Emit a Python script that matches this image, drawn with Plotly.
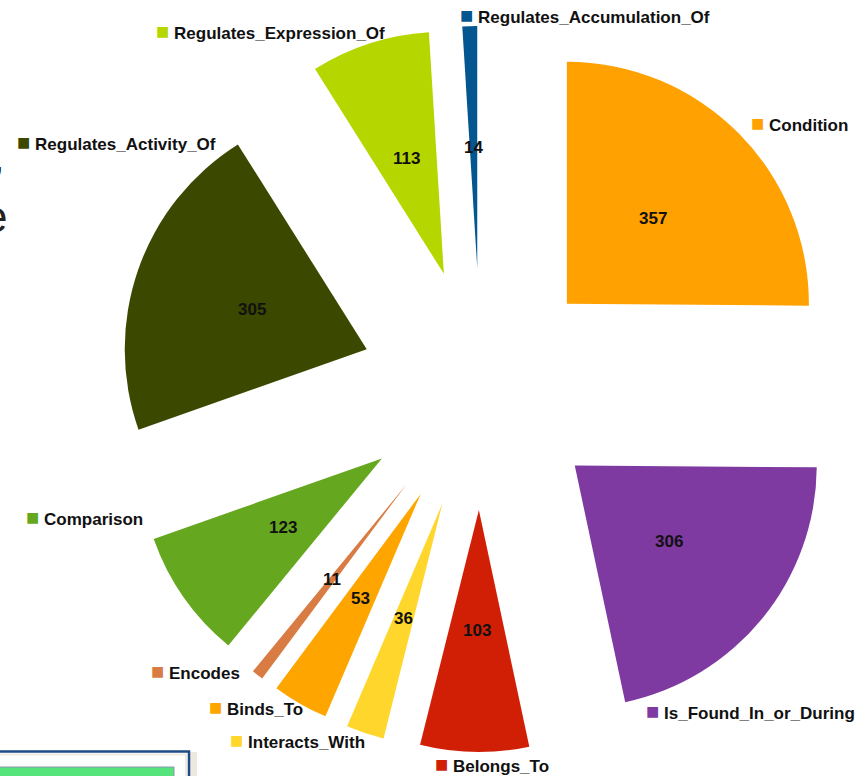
import math
import plotly.graph_objects as go

W, H = 867, 776

# ---- data -------------------------------------------------------------
categories = [
    "Condition", "Is_Found_In_or_During", "Belongs_To", "Interacts_With",
    "Binds_To", "Encodes", "Comparison", "Regulates_Activity_Of",
    "Regulates_Expression_Of", "Regulates_Accumulation_Of",
]
counts = [357, 306, 103, 36, 53, 11, 123, 305, 113, 14]

# ---- styling ----------------------------------------------------------
colors = [
    "#FFA100", "#7E3AA1", "#D11F06", "#FFD62B", "#FFA500",
    "#D97C44", "#66A720", "#3A4800", "#B6D600", "#03568F",
]
PULL = 0.5
DOMAIN_X = [95 / W, 1.0]
DOMAIN_Y = [24 / H, 750 / H]
VALUE_R = 0.5           # value text distance from slice tip (fraction of radius)
# outside category labels: angular shift from slice bisector (deg),
# distance from pie centre (fraction of radius), and which side is anchored
label_shift_deg = [0.6, 23.5, 5.6, -0.7, -1.1, 2.1, 13.9, 23.9, 3.1, -1.1]
label_radius = [1.566, 1.506, 1.568, 1.529, 1.508, 1.533, 1.487, 1.487, 1.525, 1.540]
label_anchor = ["left", "left", "left", "right", "right", "right", "right",
                "right", "right", "left"]
FONT = "Liberation Sans, Arial, sans-serif"

fig = go.Figure(go.Pie(
    labels=categories,
    values=counts,
    sort=False,
    direction="clockwise",
    rotation=0,
    pull=[PULL] * len(counts),
    marker=dict(colors=colors, line=dict(width=0)),
    textinfo="none",
    hoverinfo="label+value",
    domain=dict(x=DOMAIN_X, y=DOMAIN_Y),
    showlegend=False,
))

# geometry of the pie as plotly lays it out (margins are zero)
cx = (DOMAIN_X[0] + DOMAIN_X[1]) / 2 * W
cy = H - (DOMAIN_Y[0] + DOMAIN_Y[1]) / 2 * H
r = min((DOMAIN_X[1] - DOMAIN_X[0]) * W, (DOMAIN_Y[1] - DOMAIN_Y[0]) * H) / 2 / (1 + PULL)

total = sum(counts)
annotations = []
start = 0.0
for i, v in enumerate(counts):
    span = v / total * 360.0
    mid = math.radians(start + span / 2)
    start += span
    # value label
    d = (PULL + VALUE_R) * r
    px, py = cx + d * math.sin(mid), cy - d * math.cos(mid)
    annotations.append(dict(
        x=px / W, y=1 - py / H, xref="paper", yref="paper",
        text=f"<b>{v}</b>", showarrow=False,
        font=dict(family=FONT, size=17, color="#111111"),
        xanchor="center", yanchor="middle",
    ))
    # category label with coloured key square
    a = mid + math.radians(label_shift_deg[i])
    d = label_radius[i] * r
    px, py = cx + d * math.sin(a), cy - d * math.cos(a)
    annotations.append(dict(
        x=px / W, y=1 - py / H, xref="paper", yref="paper",
        text=(f"<span style='color:{colors[i]};font-size:22px'>■</span>"
              f" <b>{categories[i]}</b>"),
        showarrow=False,
        font=dict(family=FONT, size=17, color="#111111"),
        xanchor=label_anchor[i], yanchor="middle",
        xshift=-4 if label_anchor[i] == "left" else 0, yshift=1,
    ))

# cropped fragments of the surrounding slide
annotations.append(dict(x=9 / W, y=1 - 216 / H, xref="paper", yref="paper",
                        text="e", showarrow=False, xanchor="right", yanchor="middle",
                        font=dict(family=FONT, size=44, color="#222222")))
annotations.append(dict(x=5 / W, y=1 - 180 / H, xref="paper", yref="paper",
                        text="’", showarrow=False, xanchor="right", yanchor="middle",
                        font=dict(family=FONT, size=36, color="#222222")))

def px_rect(x0, y0, x1, y1, **kw):
    return dict(type="rect", xref="paper", yref="paper",
                x0=x0 / W, x1=x1 / W, y0=1 - y0 / H, y1=1 - y1 / H, **kw)

shapes = [
    px_rect(190, 752, 197, 800, fillcolor="#ECE9E1", line=dict(width=0)),
    px_rect(-5, 751.5, 189, 800, fillcolor="white", line=dict(color="#1E4A85", width=2.5)),
    px_rect(-5, 754.5, 186, 800, fillcolor="rgba(0,0,0,0)", line=dict(color="#EDEAE2", width=2)),
    px_rect(-5, 767, 174, 800, fillcolor="#55E47B", line=dict(color="#8A97B5", width=1)),
]

fig.update_layout(
    width=W, height=H,
    margin=dict(l=0, r=0, t=0, b=0),
    paper_bgcolor="white", plot_bgcolor="white",
    annotations=annotations, shapes=shapes,
)

fig.write_html("out.html")
